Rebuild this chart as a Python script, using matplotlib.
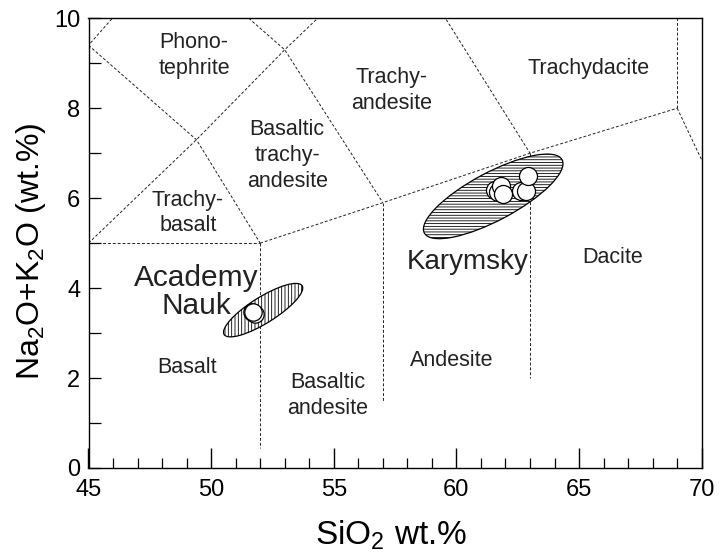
import numpy as np
import matplotlib
matplotlib.use("Agg")
import matplotlib.pyplot as plt
from matplotlib.patches import Ellipse
import matplotlib.transforms as mtransforms

plt.rcParams['font.family'] = ['Liberation Sans', 'DejaVu Sans']
plt.rcParams['mathtext.fontset'] = 'custom'
plt.rcParams['mathtext.rm'] = 'Liberation Sans'
plt.rcParams['mathtext.default'] = 'regular'
plt.rcParams['hatch.linewidth'] = 0.6

# ---- TAS classification boundaries (SiO2, Na2O+K2O) ----
boundary_lines = [
    ([41, 45, 48.4, 52.5], [7, 9.4, 11.5, 14]),
    ([45, 49.4, 53, 57.6, 61], [5, 7.3, 9.3, 11.7, 13.5]),
    ([45, 49.4, 52], [9.4, 7.3, 5]),
    ([48.4, 53, 57], [11.5, 9.3, 5.9]),
    ([57.6, 63], [11.7, 7]),
    ([45, 52], [5, 5]),
    ([52, 57, 63, 69], [5, 5.9, 7, 8]),
    ([69, 69], [8, 13]),
    ([69, 70], [8, 6.85]),
    ([52, 52], [5, 0.45]),
    ([57, 57], [5.9, 1.47]),
    ([63, 63], [7, 2.0]),
]

field_names = ["Phono-\ntephrite", "Trachy-\nandesite", "Trachydacite",
               "Basaltic\ntrachy-\nandesite", "Trachy-\nbasalt", "Basalt",
               "Basaltic\nandesite", "Andesite", "Dacite"]
field_x = [49.3, 57.35, 65.4, 53.1, 49.05, 49.0, 54.75, 59.8, 66.35]
field_y = [9.18, 8.4, 8.89, 6.95, 5.67, 2.24, 1.62, 2.4, 4.69]

# ---- sample data ----
karymsky_sio2 = [61.56, 61.70, 61.83, 61.90, 62.65, 62.85, 62.92]
karymsky_alk = [6.19, 6.13, 6.26, 6.10, 6.15, 6.15, 6.50]
nauk_sio2 = [51.66, 51.78, 51.72]
nauk_alk = [3.48, 3.43, 3.46]

# fields of compositions (center SiO2, center alkali)
karymsky_center = (61.50, 6.04)
nauk_center = (52.12, 3.51)

volcano_names = ["Karymsky", "Academy\nNauk"]
volcano_x = [60.45, 49.4]
volcano_y = [4.58, 3.91]
volcano_fs = [20, 21.5]

fig = plt.figure(figsize=(7.2, 5.55), dpi=100)
ax = fig.add_axes([88.5/720, 1-468/555, (701.7-88.5)/720, (468-18.3)/555])
ax.set_xlim(45, 70)
ax.set_ylim(0, 10)

for xs, ys in boundary_lines:
    ax.plot(xs, ys, color='#222222', lw=0.7, ls=(0, (3, 2)), zorder=1)

def field_ellipse(center, a_pt, b_pt, ang, hatch):
    trans = (mtransforms.Affine2D().scale(1/72.) + fig.dpi_scale_trans +
             mtransforms.ScaledTranslation(center[0], center[1], ax.transData))
    e = Ellipse((0, 0), 2*a_pt, 2*b_pt, angle=ang, transform=trans,
                facecolor='white', edgecolor='black', lw=0.9, hatch=hatch, zorder=2)
    ax.add_patch(e)

field_ellipse(karymsky_center, 78*0.72, 24*0.72, 28, '------')
field_ellipse(nauk_center, 46*0.72, 13*0.72, 32, '|||||')

ax.plot(karymsky_sio2, karymsky_alk, 'o', ms=13, mfc='white', mec='black', mew=0.9, zorder=3)
ax.plot(nauk_sio2, nauk_alk, 'o', ms=12.5, mfc='white', mec='black', mew=0.9, zorder=3)

for name, x, y in zip(field_names, field_x, field_y):
    ax.text(x, y, name, ha='center', va='center', fontsize=15.5, color='#222222',
            linespacing=1.3, zorder=4)

for name, x, y, fs in zip(volcano_names, volcano_x, volcano_y, volcano_fs):
    ax.text(x, y, name, ha='center', va='center', fontsize=fs, color='#222222',
            linespacing=1.0, zorder=4)

ax.set_xticks(np.arange(45, 71, 5))
ax.set_xticks(np.arange(45, 71, 1), minor=True)
ax.set_yticks(np.arange(0, 11, 2))
ax.set_yticks(np.arange(0, 11, 1), minor=True)
ax.tick_params(axis='x', which='major', direction='in', length=14.5, width=1.0,
               labelsize=17, pad=8, top=False)
ax.tick_params(axis='x', which='minor', direction='in', length=7.5, width=0.9, top=False)
ax.tick_params(axis='y', which='both', direction='in', length=8.5, width=0.9,
               labelsize=17, pad=6, right=False)
for s in ax.spines.values():
    s.set_linewidth(1.0)

ax.set_xlabel("SiO$_2$ wt.%", fontsize=24)
ax.set_ylabel("Na$_2$O+K$_2$O (wt.%)", fontsize=23)
ax.xaxis.set_label_coords(0.493, -0.149)
ax.xaxis.label.set_va('center')
ax.yaxis.set_label_coords(-0.094, 0.483)
ax.yaxis.label.set_va('center')

fig.savefig("out.png", dpi=100)
